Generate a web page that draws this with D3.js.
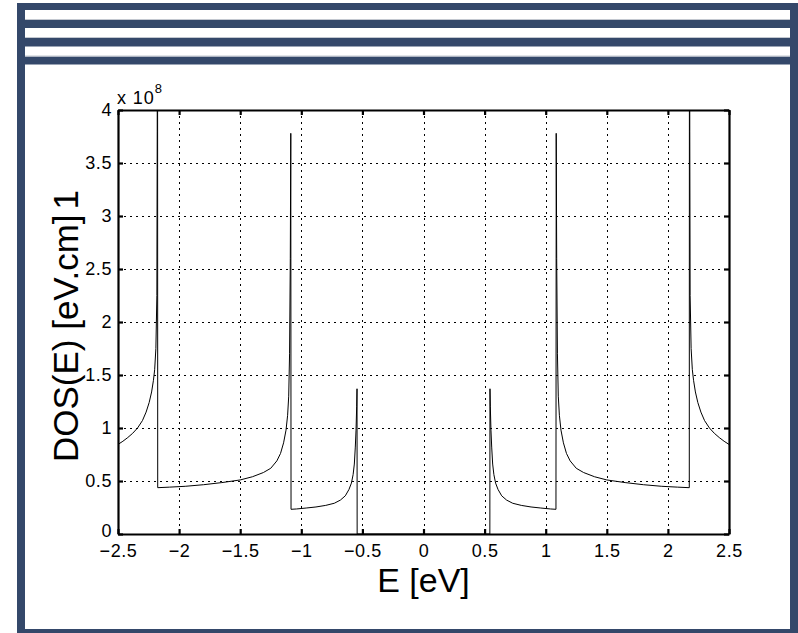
<!DOCTYPE html>
<html>
<head>
<meta charset="utf-8">
<script src="https://cdn.jsdelivr.net/npm/d3@7.9.0/dist/d3.min.js"></script>
<style>
  body { margin: 0; background: #fff; }
  svg { display: block; font-family: "Liberation Sans", Arial, Helvetica, sans-serif; }
</style>
</head>
<body>
<svg id="chart" width="798" height="633"></svg>
<script>
// tick values + labels
const xTicks = [-2.5, -2, -1.5, -1, -0.5, 0, 0.5, 1, 1.5, 2, 2.5];
const xTickLabels = ['\u22122.5', '\u22122', '\u22121.5', '\u22121', '\u22120.5', '0', '0.5', '1', '1.5', '2', '2.5'];
const yTicks = [0, 0.5, 1, 1.5, 2, 2.5, 3, 3.5, 4];
const yTickLabels = ['0', '0.5', '1', '1.5', '2', '2.5', '3', '3.5', '4'];

// E [eV] and DOS (x 1e8)
const energy = [
  -2.5, -2.46, -2.42, -2.38, -2.34, -2.3, -2.27, -2.245, -2.225, -2.21, -2.2, -2.19, -2.182, -2.179, -2.177,
  -2.175, -2.08, -1.95, -1.8, -1.65, -1.5, -1.4, -1.31, -1.25, -1.2, -1.17, -1.145, -1.125, -1.112, -1.103, -1.096, -1.09, -1.086,
  -1.084, -1.04, -0.96, -0.88, -0.8, -0.73, -0.68, -0.64, -0.61, -0.59, -0.576, -0.566, -0.558, -0.552, -0.547, -0.544,
  -0.543, 0.543,
  0.544, 0.547, 0.552, 0.558, 0.566, 0.576, 0.59, 0.61, 0.64, 0.68, 0.73, 0.8, 0.88, 0.96, 1.04, 1.084,
  1.086, 1.09, 1.096, 1.103, 1.112, 1.125, 1.145, 1.17, 1.2, 1.25, 1.31, 1.4, 1.5, 1.65, 1.8, 1.95, 2.08, 2.175,
  2.177, 2.179, 2.182, 2.19, 2.2, 2.21, 2.225, 2.245, 2.27, 2.3, 2.34, 2.38, 2.42, 2.46, 2.5
];
const dos = [
  0.845, 0.875, 0.91, 0.95, 1.0, 1.07, 1.15, 1.24, 1.34, 1.45, 1.55, 1.75, 2.25, 3.8, 8,
  0.437, 0.442, 0.45, 0.465, 0.485, 0.51, 0.54, 0.58, 0.62, 0.69, 0.76, 0.86, 0.98, 1.12, 1.3, 1.7, 2.6, 3.78,
  0.233, 0.236, 0.245, 0.255, 0.27, 0.29, 0.32, 0.36, 0.42, 0.48, 0.56, 0.66, 0.82, 0.98, 1.2, 1.37,
  0, 0,
  1.37, 1.2, 0.98, 0.82, 0.66, 0.56, 0.48, 0.42, 0.36, 0.32, 0.29, 0.27, 0.255, 0.245, 0.236, 0.233,
  3.78, 2.6, 1.7, 1.3, 1.12, 0.98, 0.86, 0.76, 0.69, 0.62, 0.58, 0.54, 0.51, 0.485, 0.465, 0.45, 0.442, 0.437,
  8, 3.8, 2.25, 1.75, 1.55, 1.45, 1.34, 1.24, 1.15, 1.07, 1.0, 0.95, 0.91, 0.875, 0.845
];

const frameColor = '#34486a';
const svg = d3.select('#chart');

// window frame
svg.append('rect').attr('width', 798).attr('height', 633).attr('fill', '#fff');
const bands = [[17, 3, 781, 7], [17, 20, 781, 8], [17, 38, 781, 8.5], [17, 56.5, 781, 8],
  [17, 3, 8, 630], [790, 3, 8, 630], [17, 629, 781, 4]];
bands.forEach(b => {
  svg.append('rect').attr('x', b[0]).attr('y', b[1]).attr('width', b[2]).attr('height', b[3]).attr('fill', frameColor);
});
[19.5, 37.5, 56].forEach(yy => {
  svg.append('line').attr('x1', 25).attr('x2', 790).attr('y1', yy).attr('y2', yy).attr('stroke', '#c3c8d0').attr('stroke-width', 1);
});

const plotLeft = 118, plotRight = 729, plotTop = 110, plotBottom = 534;
const x = d3.scaleLinear().domain([-2.5, 2.5]).range([plotLeft, plotRight]);
const y = d3.scaleLinear().domain([0, 4]).range([plotBottom, plotTop]);

// dotted grid, snapped to whole pixels so the dots stay dark
const grid = svg.append('g').attr('stroke', '#000').attr('stroke-width', 1.3)
  .attr('stroke-dasharray', '1.5,4.5').attr('shape-rendering', 'crispEdges');
xTicks.slice(1, -1).forEach(t => {
  const px = Math.round(x(t)) + 0.5;
  grid.append('line').attr('x1', px).attr('x2', px).attr('y1', plotTop).attr('y2', plotBottom);
});
yTicks.slice(1, -1).forEach(t => {
  const py = Math.round(y(t)) + 0.5;
  grid.append('line').attr('x1', plotLeft).attr('x2', plotRight).attr('y1', py).attr('y2', py);
});

// curve
svg.append('clipPath').attr('id', 'plotclip')
  .append('rect').attr('x', plotLeft).attr('y', plotTop).attr('width', plotRight - plotLeft).attr('height', plotBottom - plotTop);
const line = d3.line().x(i => x(energy[i])).y(i => y(dos[i]));
svg.append('path')
  .attr('clip-path', 'url(#plotclip)')
  .attr('d', line(d3.range(energy.length)))
  .attr('fill', 'none').attr('stroke', '#000').attr('stroke-width', 1);

// axes (box with inward ticks)
const fmtX = (d, i) => xTickLabels[i];
const fmtY = (d, i) => yTickLabels[i];
const axB = svg.append('g').attr('transform', `translate(0,${plotBottom})`)
  .call(d3.axisBottom(x).tickValues(xTicks).tickFormat(fmtX).tickSize(-5).tickSizeOuter(0).tickPadding(10));
const axL = svg.append('g').attr('transform', `translate(${plotLeft},0)`)
  .call(d3.axisLeft(y).tickValues(yTicks).tickFormat(fmtY).tickSize(-5).tickSizeOuter(0).tickPadding(6));
const axT = svg.append('g').attr('transform', `translate(0,${plotTop})`)
  .call(d3.axisTop(x).tickValues(xTicks).tickFormat('').tickSize(-5).tickSizeOuter(0));
const axR = svg.append('g').attr('transform', `translate(${plotRight},0)`)
  .call(d3.axisRight(y).tickValues(yTicks).tickFormat('').tickSize(-5).tickSizeOuter(0));

[axB, axL, axT, axR].forEach(a => {
  a.select('.domain').attr('stroke', '#000').attr('stroke-width', 2.2);
  a.selectAll('.tick line').attr('stroke', '#000').attr('stroke-width', 2.2);
  a.selectAll('.tick text').attr('fill', '#000').attr('font-size', 18).attr('letter-spacing', 0.6)
    .attr('font-family', '"Liberation Sans", Arial, sans-serif');
});
// keep the y "0" clear of the "-2.5" below it
axL.selectAll('.tick text').filter(d => d === 0).attr('y', -3.5);

// exponent label
const ex = svg.append('text').attr('x', 117).attr('y', 104).attr('font-size', 18).attr('letter-spacing', 0.9);
ex.append('tspan').text('x 10');
ex.append('tspan').attr('font-size', 13).attr('dy', -11).attr('dx', 0).text('8');

// axis titles
svg.append('text').attr('x', (plotLeft + plotRight) / 2).attr('y', 592)
  .attr('text-anchor', 'middle').attr('font-size', 34).text('E [eV]');
const yl = svg.append('text').attr('transform', 'translate(78,326) rotate(-90)')
  .attr('text-anchor', 'middle').attr('font-size', 35);
yl.append('tspan').text('DOS(E) [eV.cm]');
yl.append('tspan').attr('dx', 5).text('1');
</script>
</body>
</html>
